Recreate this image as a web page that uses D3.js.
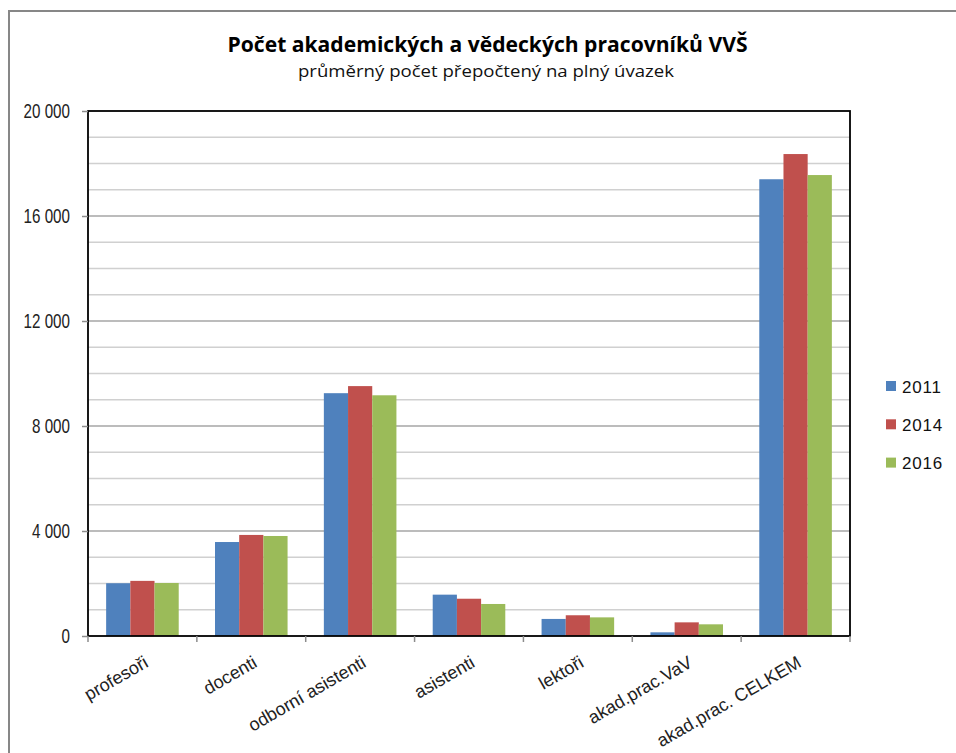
<!DOCTYPE html>
<html>
<head>
<meta charset="utf-8">
<script src="https://cdn.jsdelivr.net/npm/d3@7"></script>
<style>
  html, body { margin: 0; padding: 0; background: #fff; }
  svg { display: block; }
</style>
</head>
<body>
<svg id="chart" width="956" height="753"></svg>
<script>
const categories = ["profesoři", "docenti", "odborní asistenti", "asistenti", "lektoři", "akad.prac.VaV", "akad.prac. CELKEM"];
const seriesNames = ["2011", "2014", "2016"];
const values2011 = [2010, 3580, 9250, 1575, 650, 140, 17400];
const values2014 = [2100, 3850, 9520, 1420, 790, 520, 18360];
const values2016 = [2020, 3810, 9170, 1220, 710, 445, 17560];
const seriesColors = ["#4F81BD", "#C0504D", "#9BBB59"];
const yTickValues = [0, 4000, 8000, 12000, 16000, 20000];
const yGridValues = d3.range(0, 20001, 1000);
const titleText = "Počet akademických a vědeckých pracovníků VVŠ";
const subtitleText = "průměrný počet přepočtený na plný úvazek";

const series = [values2011, values2014, values2016];

const svg = d3.select("#chart");
const plot = { left: 88, right: 850, top: 111, bottom: 636 };

// outer chart border
svg.append("rect")
  .attr("x", 9).attr("y", 11).attr("width", 1000).attr("height", 800)
  .attr("fill", "none").attr("stroke", "#878787").attr("stroke-width", 2);

// titles
svg.append("text")
  .attr("x", 227.5).attr("y", 52)
  .attr("textLength", 520).attr("lengthAdjust", "spacingAndGlyphs")
  .style("font-family", "'Open Sans', 'Liberation Sans', sans-serif")
  .style("font-weight", "bold").style("font-size", "21px").attr("fill", "#000")
  .text(titleText);
svg.append("text")
  .attr("x", 298).attr("y", 77)
  .attr("textLength", 376).attr("lengthAdjust", "spacingAndGlyphs")
  .style("font-family", "'Open Sans', 'Liberation Sans', sans-serif")
  .style("font-size", "16px").attr("fill", "#111")
  .text(subtitleText);

const x0 = d3.scaleBand().domain(categories).range([plot.left, plot.right]).paddingInner(0).paddingOuter(0);
const bw = x0.bandwidth();
const groupW = bw * 3 / 4.5;
const x1 = d3.scaleBand().domain(seriesNames).range([0, groupW]).padding(0);
const y = d3.scaleLinear().domain([0, 20000]).range([plot.bottom, plot.top]);

// gridlines
svg.append("g").selectAll("line").data(yGridValues.filter(v => v > 0 && v < 20000)).join("line")
  .attr("x1", plot.left).attr("x2", plot.right)
  .attr("y1", d => y(d)).attr("y2", d => y(d))
  .attr("stroke", d => d % 4000 === 0 ? "#a6a6a6" : "#d0d0d0")
  .attr("stroke-width", 1.5);

// bars
const groups = svg.append("g").selectAll("g").data(categories).join("g")
  .attr("transform", c => `translate(${x0(c) + (bw - groupW) / 2},0)`);
groups.selectAll("rect").data((c, i) => seriesNames.map((s, j) => ({ s, j, v: series[j][i] }))).join("rect")
  .attr("x", d => x1(d.s))
  .attr("width", x1.bandwidth())
  .attr("y", d => y(d.v))
  .attr("height", d => y(0) - y(d.v))
  .attr("fill", d => seriesColors[d.j]);

// plot border
svg.append("rect")
  .attr("x", plot.left).attr("y", plot.top)
  .attr("width", plot.right - plot.left).attr("height", plot.bottom - plot.top)
  .attr("fill", "none").attr("stroke", "#000").attr("stroke-width", 1.8);

// y axis
const fmt = d3.formatLocale({ thousands: "\u00a0", grouping: [3], decimal: ",", currency: ["", ""] }).format(",d");
const yAxis = d3.axisLeft(y).tickValues(yTickValues).tickSize(6).tickFormat(fmt);
const gy = svg.append("g").attr("transform", `translate(${plot.left},0)`).call(yAxis);
gy.select(".domain").remove();
gy.selectAll(".tick line").attr("stroke", "#8c8c8c").attr("stroke-width", 1.5);
gy.selectAll(".tick text")
  .attr("x", null).attr("dy", null)
  .attr("text-anchor", "end")
  .attr("transform", "translate(-18,6) scale(0.76,1)")
  .style("font-family", "'Liberation Sans', Arial, sans-serif")
  .style("font-size", "20px").attr("fill", "#222");

// x axis
const xTickPositions = categories.map(c => x0(c)).concat([plot.right]);
svg.append("g").selectAll("line").data(xTickPositions).join("line")
  .attr("x1", d => d).attr("x2", d => d)
  .attr("y1", plot.bottom).attr("y2", plot.bottom + 6)
  .attr("stroke", "#8c8c8c").attr("stroke-width", 1.5);

svg.append("g").selectAll("text").data(categories).join("text")
  .attr("transform", c => `translate(${x0(c) + bw / 2 + 7},${plot.bottom + 30}) rotate(-30)`)
  .attr("text-anchor", "end")
  .style("font-family", "'Liberation Sans', Arial, sans-serif")
  .style("font-size", "18px").attr("fill", "#222")
  .text(c => c);

// legend
const legend = svg.append("g").selectAll("g").data(seriesNames).join("g")
  .attr("transform", (s, i) => `translate(886,${381 + i * 38.3})`);
legend.append("rect").attr("width", 10).attr("height", 10).attr("fill", (s, i) => seriesColors[i]);
legend.append("text").attr("x", 16).attr("y", 11.5)
  .style("font-family", "'Liberation Sans', Arial, sans-serif")
  .style("font-size", "17px").style("letter-spacing", "0.8px").attr("fill", "#111")
  .text(s => s);
</script>
</body>
</html>
